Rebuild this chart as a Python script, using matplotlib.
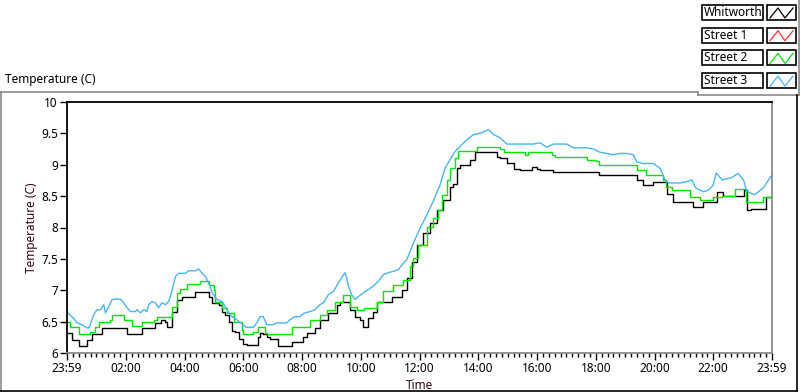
import matplotlib
matplotlib.use("Agg")
import matplotlib.pyplot as plt
from matplotlib.lines import Line2D
from matplotlib.patches import Rectangle
from matplotlib.ticker import MultipleLocator

# ---------- data (hours since 23:59) ----------
whit_t = [0, 0.17, 0.4, 0.62, 0.68, 0.85, 1.08, 1.19, 1.99, 2.05, 2.5, 2.55, 2.89, 3.0, 3.2, 3.35,
          3.4, 3.57, 3.74, 3.91, 4.26, 4.37, 4.71, 4.82, 4.94, 5.16, 5.28, 5.39, 5.5, 5.62, 5.73,
          5.84, 6.0, 6.12, 6.4, 6.5, 6.57, 6.68, 6.8, 6.91, 7.14, 7.19, 7.54, 7.65, 7.93, 8.05,
          8.16, 8.33, 8.44, 8.61, 8.73, 8.9, 9.18, 9.29, 9.52, 9.63, 9.81, 9.98, 10.09, 10.26,
          10.43, 10.54, 10.94, 11.05, 11.22, 11.39, 11.56, 11.73, 11.9, 12.13, 12.36, 12.58, 12.8,
          13.04, 13.15, 13.27, 13.38, 13.55, 13.72, 13.89, 14.57, 14.63, 14.75, 14.86, 14.97,
          15.2, 15.42, 15.65, 15.82, 15.99, 16.1, 16.33, 16.56, 18.03, 18.1, 19.28, 19.39, 19.62,
          19.8, 19.96, 20.3, 20.41, 20.64, 21.1, 21.32, 21.55, 21.66, 22.0, 22.12, 22.3, 22.34,
          22.97, 23.03, 23.14, 23.3, 23.6, 23.8, 24.0]
whit_v = [6.32, 6.2, 6.11, 6.11, 6.2, 6.3, 6.3, 6.4, 6.4, 6.31, 6.31, 6.4, 6.4, 6.48, 6.52, 6.5,
          6.41, 6.65, 6.85, 6.9, 6.9, 6.97, 6.97, 6.9, 6.8, 6.77, 6.65, 6.6, 6.5, 6.35, 6.33,
          6.22, 6.15, 6.13, 6.13, 6.25, 6.32, 6.3, 6.25, 6.23, 6.23, 6.11, 6.11, 6.18, 6.18, 6.26,
          6.32, 6.32, 6.4, 6.52, 6.52, 6.63, 6.77, 6.82, 6.82, 6.69, 6.58, 6.53, 6.42, 6.56,
          6.66, 6.82, 6.82, 6.9, 6.9, 7.0, 7.2, 7.45, 7.72, 7.91, 8.07, 8.28, 8.44,
          8.65, 8.7, 8.95, 9.0, 9.0, 9.08, 9.2, 9.2, 9.13, 9.1, 9.1, 9.03,
          8.93, 8.92, 8.92, 8.97, 8.94, 8.91, 8.91, 8.89, 8.89, 8.84, 8.84, 8.76, 8.68,
          8.68, 8.73, 8.73, 8.54, 8.41, 8.41, 8.33, 8.33, 8.41, 8.41, 8.57, 8.57, 8.5,
          8.5, 8.6, 8.28, 8.3, 8.3, 8.49, 8.52]

street1_t = []  # no visible trace in the chart
street1_v = []

street2_t = [0, 0.11, 0.34, 0.4, 0.68, 0.79, 0.96, 1.08, 1.48, 1.53, 1.87, 1.93, 2.1, 2.21, 2.5,
             2.55, 2.84, 2.95, 3.06, 3.46, 3.57, 3.74, 3.86, 4.03, 4.09, 4.48, 4.54, 4.71, 4.82,
             4.99, 5.05, 5.16, 5.28, 5.39, 5.45, 5.62, 5.67, 5.84, 5.96, 6.0, 6.23, 6.34, 6.51,
             6.63, 6.74, 6.8, 7.6, 7.65, 8.16, 8.27, 8.55, 8.6, 8.73, 8.84, 9.07, 9.12, 9.29, 9.41,
             9.52, 9.63, 9.75, 9.86, 9.98, 10.1, 10.43, 10.54, 10.66, 10.77, 11.05, 11.1, 11.33,
             11.45, 11.56, 11.68, 11.79, 11.96, 12.25, 12.47, 12.64, 12.76, 12.93, 13.04, 13.21,
             13.32, 13.89, 13.95, 14.63, 14.75, 14.86, 15.53, 15.6, 15.7, 16.4, 16.5, 16.6, 17.5,
             17.7, 18.0, 18.1, 19.28, 19.4, 19.6, 19.7, 20.2, 20.3, 20.4, 20.5, 20.6, 21.1, 21.2,
             21.4, 21.55, 21.9, 22.0, 22.2, 22.3, 22.7, 22.75, 23.0, 23.1, 23.6, 23.7, 23.9, 24.0]
street2_v = [6.5, 6.42, 6.42, 6.3, 6.3, 6.34, 6.41, 6.5, 6.52, 6.61, 6.61, 6.52, 6.52, 6.43, 6.43,
             6.5, 6.5, 6.53, 6.57, 6.57, 6.74, 6.95, 7.02, 7.02, 7.1, 7.1, 7.14, 7.14, 7.08,
             7.0, 6.82, 6.82, 6.71, 6.71, 6.63, 6.63, 6.5, 6.5, 6.37, 6.31, 6.31, 6.34, 6.41,
             6.41, 6.32, 6.31, 6.31, 6.42, 6.42, 6.53, 6.53, 6.6, 6.6, 6.69, 6.69, 6.82, 6.82, 6.92,
             6.92, 6.74, 6.74, 6.69, 6.69, 6.71, 6.71, 6.82, 6.82, 6.99, 6.99, 7.08, 7.08,
             7.16, 7.16, 7.38, 7.52, 7.72, 8.01, 8.15, 8.28, 8.52, 8.76, 8.95, 9.1,
             9.22, 9.22, 9.29, 9.29, 9.25, 9.21, 9.21, 9.16, 9.21, 9.21, 9.15, 9.13, 9.13,
             9.08, 9.06, 9.0, 9.0, 8.92, 8.92, 8.84, 8.84, 8.76, 8.65, 8.65, 8.6, 8.6, 8.49,
             8.49, 8.44, 8.44, 8.49, 8.49, 8.5, 8.5, 8.61, 8.61, 8.41, 8.41, 8.49, 8.49, 8.6]

street3_t = [0, 0.11, 0.23, 0.34, 0.51, 0.68, 0.74, 0.79, 0.91, 1.02, 1.14, 1.25, 1.31, 1.42, 1.53,
             1.65, 1.82, 1.93, 2.05, 2.16, 2.33, 2.38, 2.5, 2.61, 2.72, 2.78, 2.89, 3.01, 3.12,
             3.23, 3.35, 3.46, 3.57, 3.69, 3.8, 4.03, 4.14, 4.37, 4.48, 4.6, 4.71, 4.82, 4.94,
             5.11, 5.28, 5.39, 5.5, 5.62, 5.73, 5.89, 6.1, 6.34, 6.46, 6.57, 6.68, 6.8, 7.02, 7.14,
             7.48, 7.59, 7.76, 7.93, 8.05, 8.27, 8.44, 8.61, 8.73, 8.9, 9.07, 9.24, 9.35, 9.46,
             9.52, 9.58, 9.69, 9.8, 9.92, 10.09, 10.26, 10.43, 10.6, 10.77, 10.94, 11.1, 11.28,
             11.45, 11.56, 11.68, 11.79, 12.02, 12.25, 12.47, 12.7, 12.87, 13.04, 13.21, 13.38,
             13.61, 13.84, 14.06, 14.35, 14.52, 14.75, 14.97, 15.2, 15.88, 16.1, 16.33, 16.56,
             17.01, 17.24, 17.7, 17.92, 18.14, 18.6, 18.8, 19.05, 19.28, 19.39, 19.6, 19.96, 20.2,
             20.35, 20.5, 20.86, 21.1, 21.27, 21.4, 21.66, 21.85, 22.0, 22.1, 22.3, 22.6, 22.85,
             23.03, 23.14, 23.4, 23.7, 24.0]
street3_v = [6.66, 6.6, 6.55, 6.48, 6.45, 6.4, 6.4, 6.45, 6.61, 6.69, 6.69, 6.77, 6.64, 6.74, 6.85,
             6.86, 6.86, 6.8, 6.72, 6.66, 6.66, 6.69, 6.64, 6.69, 6.66, 6.77, 6.82, 6.8, 6.72,
             6.8, 6.77, 6.82, 6.98, 7.22, 7.27, 7.27, 7.31, 7.31, 7.34, 7.27, 7.22, 7.12, 6.96,
             6.85, 6.82, 6.74, 6.64, 6.58, 6.55, 6.49, 6.41, 6.41, 6.48, 6.58, 6.58, 6.45, 6.45, 6.48,
             6.48, 6.53, 6.58, 6.58, 6.63, 6.66, 6.69, 6.77, 6.8, 6.93, 6.98, 7.12, 7.2, 7.28,
             7.2, 7.07, 6.93, 6.85, 6.9, 6.96, 7.01, 7.07, 7.14, 7.25, 7.28, 7.3, 7.33,
             7.43, 7.48, 7.62, 7.75, 7.99, 8.2, 8.42, 8.68, 8.95, 9.08, 9.21, 9.29,
             9.4, 9.48, 9.5, 9.56, 9.48, 9.43, 9.33, 9.33, 9.33, 9.35, 9.28, 9.33,
             9.33, 9.27, 9.27, 9.25, 9.2, 9.16, 9.18, 9.18, 9.16, 9.05, 9.02, 9.02, 8.94,
             8.76, 8.71, 8.71, 8.73, 8.76, 8.63, 8.57, 8.6, 8.68, 8.87, 8.76, 8.79, 8.86,
             8.76, 8.58, 8.52, 8.63, 8.84]

series_names = ["Whitworth", "Street 1", "Street 2", "Street 3"]
series_colors = ["#000000", "#ff3030", "#00e800", "#45b6f5"]

x_ticks = [0, 2, 4, 6, 8, 10, 12, 14, 16, 18, 20, 22, 24]
x_labels = ["23:59", "02:00", "04:00", "06:00", "08:00", "10:00", "12:00",
            "14:00", "16:00", "18:00", "20:00", "22:00", "23:59"]

FONT = "Noto Sans"
FS = 8.5
W, H = 800, 392


def fx(px):
    return px / W


def fy(py):
    return 1 - py / H


fig = plt.figure(figsize=(8.0, 3.92), dpi=100)
fig.patch.set_facecolor("white")
ax = fig.add_axes([fx(67), fy(353), fx(772) - fx(67), fy(102) - fy(353)])

ax.plot(whit_t, whit_v, color=series_colors[0], lw=1.0, drawstyle="steps-post")
ax.plot(street1_t, street1_v, color=series_colors[1], lw=1.0)
ax.plot(street2_t, street2_v, color=series_colors[2], lw=1.0, drawstyle="steps-post")
ax.plot(street3_t, street3_v, color=series_colors[3], lw=1.0)

ax.set_xlim(0, 24)
ax.set_ylim(6, 10)
ax.set_xticks(x_ticks)
ax.set_xticklabels(x_labels)
ax.xaxis.set_minor_locator(MultipleLocator(0.2))
ax.set_yticks([6, 6.5, 7, 7.5, 8, 8.5, 9, 9.5, 10])
ax.set_yticklabels(["6", "6.5", "7", "7.5", "8", "8.5", "9", "9.5", "10"])
ax.tick_params(axis="both", which="major", labelsize=FS, length=5, width=1, pad=1.5,
               direction="out", colors="black")
ax.tick_params(axis="x", which="minor", length=3, width=1, direction="out")
for lab in ax.get_xticklabels() + ax.get_yticklabels():
    lab.set_fontfamily(FONT)

ax.spines["top"].set_color("black")
ax.spines["left"].set_color("black")
ax.spines["right"].set_color("#8a8a8a")
ax.spines["bottom"].set_color("#8a8a8a")
for s in ax.spines.values():
    s.set_linewidth(1.3)

lab_col = "#2a0818"
ax.set_xlabel("Time", fontsize=FS, family=FONT, color=lab_col, labelpad=3)
ax.set_ylabel("Temperature (C)", fontsize=FS, family=FONT, color=lab_col, labelpad=2)

fig.text(fx(5), fy(80), "Temperature (C)", fontsize=FS, family=FONT, color="black",
         ha="left", va="center")

# outer frame lines
gray = "#8a8a8a"
frame = [((0, 92), (698, 92), gray), ((1, 92), (1, 391), gray),
         ((698, 92), (698, 95), gray), ((698, 95), (799, 95), gray),
         ((799, 0), (799, 95), gray),
         ((0, 391), (797, 391), "black"), ((797, 95), (797, 391), "black")]
for (x0, y0), (x1, y1), c in frame:
    fig.add_artist(Line2D([fx(x0), fx(x1)], [fy(y0), fy(y1)], color=c, lw=1.2,
                          transform=fig.transFigure))

# legend boxes
for i, (name, col) in enumerate(zip(series_names, series_colors)):
    top = 5 + i * 22.7
    bot = top + 15
    fig.add_artist(Rectangle((fx(702), fy(bot)), fx(763) - fx(702), fy(top) - fy(bot),
                             transform=fig.transFigure, fill=False, ec="black", lw=1.2))
    fig.add_artist(Rectangle((fx(767), fy(bot)), fx(796) - fx(767), fy(top) - fy(bot),
                             transform=fig.transFigure, fill=False, ec="black", lw=1.2))
    fig.text(fx(704), fy((top + bot) / 2), name, fontsize=FS, family=FONT,
             ha="left", va="center", color="black")
    zx = [770, 778, 785, 793]
    zy = [bot - 2, top + 3, bot - 2, top + 3]
    fig.add_artist(Line2D([fx(v) for v in zx], [fy(v) for v in zy], color=col, lw=0.9,
                          transform=fig.transFigure))

fig.savefig("out.png", dpi=100, facecolor="white")
